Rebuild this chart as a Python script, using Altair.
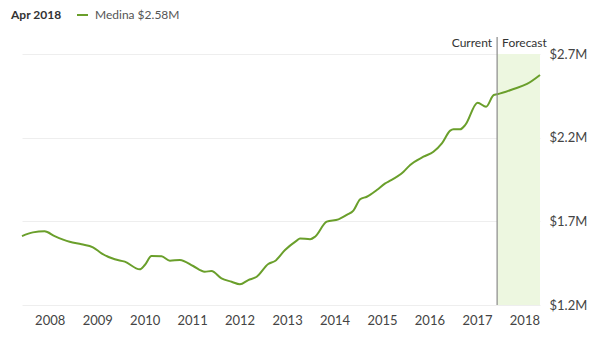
import altair as alt
import pandas as pd

# Medina home value series (millions USD)
dates = [
    "2007-06-02", "2007-08-25", "2007-11-23", "2008-02-08", "2008-06-03", "2008-09-02",
    "2008-11-29", "2009-02-03", "2009-05-16", "2009-08-01", "2009-11-24", "2010-01-02",
    "2010-02-23", "2010-05-11", "2010-07-14", "2010-09-29", "2011-01-09", "2011-04-08",
    "2011-05-30", "2011-08-15", "2011-11-01", "2012-01-04", "2012-03-08", "2012-05-12",
    "2012-08-09", "2012-09-30", "2012-12-16", "2013-03-16", "2013-04-10", "2013-06-27",
    "2013-08-04", "2013-11-02", "2014-01-31", "2014-04-05", "2014-05-26", "2014-07-17",
    "2014-09-06", "2014-11-22", "2015-01-26", "2015-03-05", "2015-06-16", "2015-08-06",
    "2015-11-16", "2016-02-01", "2016-04-06", "2016-06-09", "2016-07-04", "2016-08-25",
    "2016-10-03", "2017-01-06", "2017-03-12", "2017-05-10", "2017-06-05", "2017-10-10",
    "2018-01-21", "2018-05-01",
]
values = [
    1.612, 1.634, 1.640, 1.612, 1.578, 1.563,
    1.545, 1.509, 1.473, 1.459, 1.413, 1.439,
    1.493, 1.491, 1.465, 1.469, 1.433, 1.399,
    1.403, 1.359, 1.339, 1.324, 1.349, 1.369,
    1.445, 1.463, 1.529, 1.585, 1.598, 1.593,
    1.608, 1.698, 1.712, 1.738, 1.764, 1.832,
    1.847, 1.887, 1.927, 1.943, 1.997, 2.037,
    2.086, 2.116, 2.166, 2.242, 2.250, 2.250,
    2.276, 2.409, 2.385, 2.455, 2.459, 2.491,
    2.521, 2.575,
]
y_ticks = [1.2, 1.7, 2.2, 2.7]
x_years = list(range(2008, 2019))
domain_start = "2007-06-02"
domain_end = "2018-05-01"
forecast_start = "2017-06-05"
header_date = "Apr 2018"
series_label = "Medina $2.58M"

FONT = "Lato"
GREEN = "#6a9f2b"

df = pd.DataFrame({"date": pd.to_datetime(dates), "value": values})
shade_df = pd.DataFrame({"start": pd.to_datetime([forecast_start]),
                         "end": pd.to_datetime([domain_end])})
div_df = pd.DataFrame({"date": pd.to_datetime([forecast_start])})

x_scale = alt.Scale(domain=[pd.Timestamp(domain_start).isoformat(),
                            pd.Timestamp(domain_end).isoformat()])
y_scale = alt.Scale(domain=[1.2, 2.7], nice=False, zero=False)

tick_vals = [alt.DateTime(year=y, month=1, date=1) for y in x_years]

shade = alt.Chart(shade_df).mark_rect(color="#edf7e0").encode(
    x=alt.X("start:T", scale=x_scale),
    x2="end:T",
    y=alt.value(0),
    y2=alt.value(251),
)

line = alt.Chart(df).mark_line(color=GREEN, strokeWidth=2, interpolate="monotone").encode(
    x=alt.X("date:T", scale=x_scale,
            axis=alt.Axis(values=tick_vals, format="%Y", title=None, grid=False,
                          domain=False, ticks=False, labelPadding=9,
                          labelFont=FONT, labelFontSize=13, labelColor="#444")),
    y=alt.Y("value:Q", scale=y_scale,
            axis=alt.Axis(orient="right", values=y_ticks, title=None, domain=False,
                          ticks=False, labelPadding=9, gridColor="#eeeeee",
                          labelExpr="'$' + format(datum.value, '.1f') + 'M'",
                          labelFont=FONT, labelFontSize=13, labelColor="#444")),
)

divider = alt.Chart(div_df).mark_rule(color="#8a8a8a", strokeWidth=1.2).encode(
    x=alt.X("date:T", scale=x_scale),
    y=alt.value(-17),
    y2=alt.value(251),
)

cur_text = alt.Chart(div_df).mark_text(
    text="Current", align="right", baseline="middle", dx=-5,
    font=FONT, fontSize=12, color="#333"
).encode(x=alt.X("date:T", scale=x_scale), y=alt.value(-11))

fc_text = alt.Chart(div_df).mark_text(
    text="Forecast", align="left", baseline="middle", dx=5,
    font=FONT, fontSize=12, color="#333"
).encode(x=alt.X("date:T", scale=x_scale), y=alt.value(-11))

header = alt.Chart(div_df).mark_text(
    text=header_date, align="left", baseline="middle",
    font=FONT, fontSize=12, fontWeight="bold", color="#333"
).encode(x=alt.value(-11), y=alt.value(-39))

legend_line = alt.Chart(div_df).mark_rule(color=GREEN, strokeWidth=2).encode(
    x=alt.value(55), x2=alt.value(66), y=alt.value(-39)
)

legend_text = alt.Chart(div_df).mark_text(
    text=series_label, align="left", baseline="middle",
    font=FONT, fontSize=12, color="#555"
).encode(x=alt.value(73), y=alt.value(-39))

chart = alt.layer(shade, line, divider, cur_text, fc_text, header, legend_line, legend_text).properties(
    width=518, height=251,
    padding={"left": 22, "top": 54, "right": 65, "bottom": 48},
    autosize=alt.AutoSizeParams(type="none"),
).configure_view(stroke=None)

chart.save("out.html", embed_options={"renderer": "svg", "actions": False})
